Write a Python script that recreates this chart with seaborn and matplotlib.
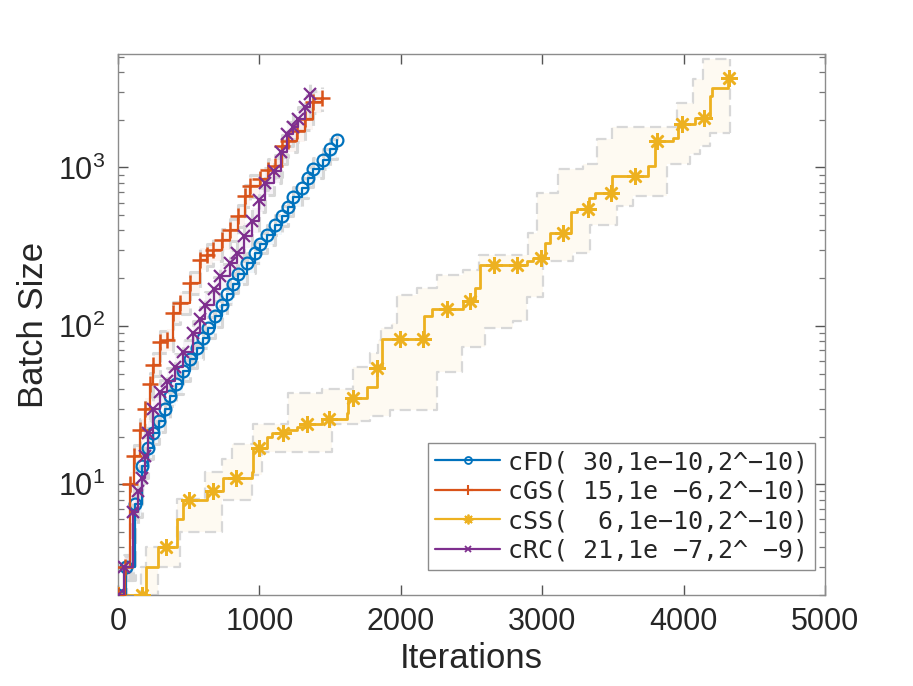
import numpy as np
import pandas as pd
import matplotlib
matplotlib.use("Agg")
import matplotlib.pyplot as plt
from matplotlib.lines import Line2D
import seaborn as sns

# ---------------- data ----------------
labels = ["cFD( 30,1e\u221210,2^\u221210)",
          "cGS( 15,1e \u22126,2^\u221210)",
          "cSS(  6,1e\u221210,2^\u221210)",
          "cRC( 21,1e \u22127,2^ \u22129)"]
colors = ["#0072BD", "#D95319", "#EDB120", "#7E2F8E"]

cfd_x = [0, 57, 120, 167, 210, 250, 290, 330, 370, 410, 460, 510, 556, 603, 639, 686, 733, 769, 816, 851,
         910, 969, 1004, 1051, 1110, 1158, 1205, 1240, 1299, 1346, 1381, 1452, 1499, 1547]
cfd_y = [2, 3, 7.5, 13, 17, 21, 25, 30, 36, 43, 52, 62, 72, 84, 97, 115, 135, 158, 185, 212,
         250, 290, 330, 375, 430, 490, 565, 650, 740, 860, 980, 1120, 1300, 1500]
cfd_lo = [2, 2.5, 6.2, 11, 14.5, 18, 21.5, 26, 31, 37, 45, 54, 62, 72, 84, 99, 117, 137, 160, 184,
          217, 251, 287, 326, 374, 426, 492, 565, 645, 750, 855, 978, 1135, 1310]
cfd_hi = [2, 3.6, 8.9, 15.2, 19.8, 24.5, 29, 35, 42, 50, 60.5, 72, 84, 98, 113, 134, 157, 184, 215, 247,
          290, 338, 383, 436, 500, 570, 656, 755, 860, 1000, 1140, 1300, 1510, 1740]

cgs_x = [0, 50, 85, 115, 156, 190, 226, 250, 297, 344, 391, 440, 509, 580, 630, 674, 733, 790, 851, 898,
         933, 1004, 1060, 1110, 1158, 1205, 1264, 1322, 1381, 1440]
cgs_y = [2, 3, 10, 15, 22, 30, 43, 57, 79, 81, 120, 140, 186, 262, 280, 302, 350, 400, 492, 658,
         760, 840, 960, 1019, 1365, 1467, 1697, 2013, 2570, 2750]
cgs_lo = [2, 2.5, 8.2, 12.6, 18.5, 25.5, 36, 48.5, 67, 69, 102, 119, 159, 224, 239, 258, 299, 342, 420, 562,
          650, 718, 820, 870, 1167, 1255, 1452, 1720, 2200, 2350]
cgs_hi = [2, 3.6, 12, 17.6, 25.8, 35, 50.5, 67, 93, 95, 141, 164, 219, 308, 329, 355, 411, 470, 578, 773,
          893, 987, 1128, 1197, 1604, 1724, 1994, 2365, 3020, 3230]

css_x = [0, 196, 285, 415, 462, 627, 745, 945, 957, 1051, 1087, 1180, 1263, 1334, 1440, 1617, 1629, 1759, 1829, 1864,
         2165, 2223, 2438, 2525, 2560, 2890, 2938, 3020, 3055, 3204, 3244, 3331, 3374, 3494, 3751, 3798, 3928, 3958,
         4081, 4187, 4204, 4317, 4321]
css_y = [2, 3, 4, 6, 8, 9, 11, 12, 17, 20, 21, 22, 23, 24, 26, 28, 35, 41, 54, 82,
         115, 128, 143, 173, 241, 255, 268, 333, 386, 520, 548, 643, 692, 880, 1019, 1467, 1544, 1870,
         2042, 2830, 3160, 3656, 3656]
css_mx = [0, 167, 337, 504, 669, 832, 999, 1164, 1334, 1494, 1664, 1830, 1994, 2160, 2329, 2489, 2661, 2824,
          2989, 3149, 3322, 3485, 3654, 3814, 3986, 4146, 4321]
css_my = [2, 2, 4, 8, 9, 11, 17, 21, 24, 26, 35, 54, 82, 82, 128, 143, 241, 241,
          268, 386, 548, 692, 880, 1467, 1870, 2042, 3656]
css_bx = [0, 160, 200, 285, 415, 438, 615, 733, 804, 945, 957, 1016, 1204, 1440, 1511, 1664, 1711, 1782, 1841,
          1860, 1924, 1935, 1971, 2112, 2254, 2430, 2442, 2550, 2595, 2796, 2890, 2902, 2961, 3008, 3114, 3220,
          3291, 3338, 3385, 3491, 3527, 3645, 3880, 3951, 4045, 4068, 4116, 4140, 4187, 4328]
css_hi = [2, 3, 4, 4, 8.1, 8.1, 12, 14.5, 18, 18, 24, 24, 37.5, 40, 40, 55, 55, 67, 81.5,
          97, 97, 104, 157, 173, 210, 210, 226, 281, 281, 281, 281, 386, 692, 692, 971, 971,
          1045, 1045, 1503, 1808, 1808, 1808, 1808, 2564, 2564, 3604, 3604, 4830, 4830, 4830]
css_lo = [2, 2, 2, 3, 3, 5, 5, 8, 8, 11.4, 11.4, 16, 16, 16, 24, 24, 25, 27, 27,
          27, 29.4, 29.4, 29.4, 29.4, 51, 74, 74, 74, 97, 108, 153, 153, 153, 255, 255, 288,
          288, 430, 430, 430, 569, 658, 1045, 1045, 1208, 1208, 1365, 1365, 1656, 1656]

crc_x = [0, 45, 108, 140, 167, 190, 214, 250, 300, 350, 400, 460, 533, 580, 615, 680, 721, 790, 839, 890,
         945, 1000, 1040, 1100, 1150, 1193, 1240, 1275, 1320, 1358]
crc_y = [2, 3, 6.7, 9, 11, 15, 21, 30, 38, 45, 55, 68, 90, 110, 136, 170, 205, 250, 288, 370,
         460, 620, 800, 950, 1250, 1620, 1800, 2013, 2400, 2898]
crc_lo = [2, 2.5, 5.6, 7.5, 9.2, 12.6, 17.6, 25, 32, 38, 46, 57, 75, 92, 114, 143, 172, 210, 242, 311,
          386, 520, 672, 798, 1050, 1360, 1510, 1690, 2020, 2430]
crc_hi = [2, 3.6, 8, 10.8, 13.2, 18, 25.2, 36, 45.6, 54, 66, 81.6, 108, 132, 163, 204, 246, 300, 345, 444,
          552, 744, 960, 1140, 1500, 1944, 2160, 2415, 2880, 3450]

x_ticks = [0, 1000, 2000, 3000, 4000, 5000]

# ---------------- style ----------------
sns.set_theme(style="ticks")
plt.rcParams["font.family"] = ["Liberation Sans", "DejaVu Sans"]
plt.rcParams.update({
    "xtick.direction": "in", "ytick.direction": "in",
    "xtick.top": True, "ytick.right": True,
    "xtick.minor.visible": False,
})

fig = plt.figure(figsize=(9.13, 6.86), dpi=100)
ax = fig.add_axes([0.1292, 0.1327, 0.7744, 0.7886])

BAND_EDGE = "#D8D8D8"
DASH = (0, (5, 2.5))


def draw_band(x, lo, hi, color, lw=1.6, close_right=False):
    ax.fill_between(x, lo, hi, step="post", color=color, alpha=0.055, lw=0, zorder=1)
    df = pd.DataFrame({"x": x, "lo": lo, "hi": hi})
    for col in ("lo", "hi"):
        sns.lineplot(data=df, x="x", y=col, ax=ax, estimator=None, sort=False,
                     drawstyle="steps-post", color=BAND_EDGE, lw=lw, linestyle=DASH, zorder=2)
    if close_right:
        ax.plot([x[-1], x[-1]], [lo[-1], hi[-1]], color=BAND_EDGE, lw=lw, linestyle=DASH, zorder=2)


draw_band(css_bx, css_lo, css_hi, colors[2], close_right=True)

# cSS line + markers
df_css = pd.DataFrame({"x": css_x, "y": css_y})
sns.lineplot(data=df_css, x="x", y="y", ax=ax, estimator=None, sort=False,
             drawstyle="steps-post", color=colors[2], lw=2.0, zorder=4)
ax.plot(css_mx, css_my, ls="none", marker=(8, 2, 0), ms=12, mew=1.8,
        color=colors[2], zorder=5)

left_series = [
    (cfd_x, cfd_y, cfd_lo, cfd_hi, colors[0], "o", 8.5, 1.6),
    (cgs_x, cgs_y, cgs_lo, cgs_hi, colors[1], "+", 11, 1.8),
    (crc_x, crc_y, crc_lo, crc_hi, colors[3], "x", 9, 1.6),
]
for x, y, lo, hi, c, m, ms, mew in left_series:
    draw_band(x, lo, hi, c, lw=2.2)
for x, y, lo, hi, c, m, ms, mew in left_series:
    df = pd.DataFrame({"x": x, "y": y})
    sns.lineplot(data=df, x="x", y="y", ax=ax, estimator=None, sort=False,
                 drawstyle="steps-post", color=c, lw=1.6, marker=m, markersize=ms,
                 markerfacecolor="none", markeredgecolor=c, markeredgewidth=mew, zorder=6)

ax.set_yscale("log")
ax.set_xlim(0, 5000)
ax.set_ylim(2, 5200)
ax.set_xticks(x_ticks)
ax.set_xticklabels([str(t) for t in x_ticks])
ax.set_xlabel("Iterations", fontsize=25, color="#262626", labelpad=3)
ax.set_ylabel("Batch Size", fontsize=25, color="#262626", labelpad=6)

for sp in ax.spines.values():
    sp.set_color("#8c8c8c")
    sp.set_linewidth(1.0)
ax.tick_params(axis="both", which="major", labelsize=22, length=7, width=1.0,
               color="#555555", labelcolor="#262626", pad=9)
ax.tick_params(axis="y", which="minor", length=4, width=0.9, color="#777777")

handles = [
    Line2D([], [], color=colors[0], lw=1.6, marker="o", ms=5, mfc="none", mew=1.3),
    Line2D([], [], color=colors[1], lw=1.6, marker="+", ms=7, mew=1.5),
    Line2D([], [], color=colors[2], lw=1.6, marker=(8, 2, 0), ms=7, mew=1.3),
    Line2D([], [], color=colors[3], lw=1.6, marker="x", ms=5, mew=1.3),
]
leg = ax.legend(handles, labels, loc="lower right", bbox_to_anchor=(0.986, 0.046),
                borderaxespad=0, prop={"family": "DejaVu Sans Mono", "size": 18},
                frameon=True, fancybox=False, framealpha=1, edgecolor="#8c8c8c",
                handlelength=2.6, handletextpad=0.3, labelspacing=0.22,
                borderpad=0.3)
leg.get_frame().set_linewidth(1.0)

fig.savefig("out.png", dpi=100)
